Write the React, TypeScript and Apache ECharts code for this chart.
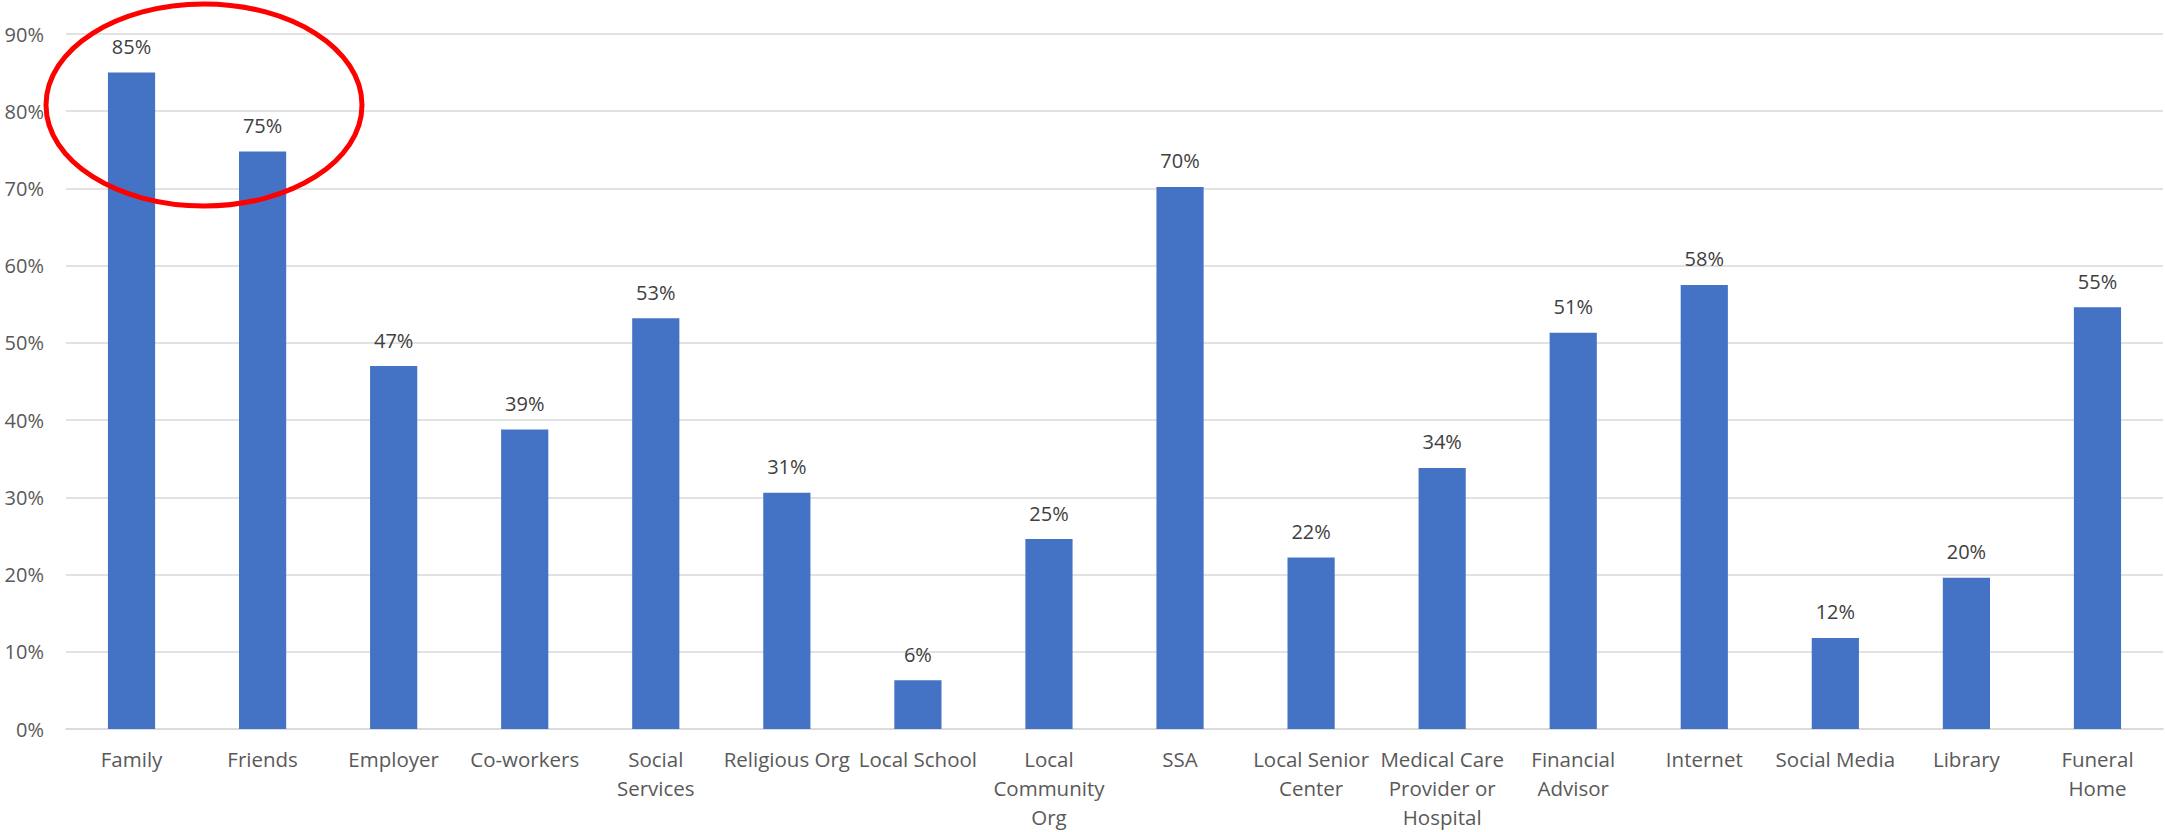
import React, { useEffect, useRef } from "react";
import * as echarts from "echarts";

const categories = [
  "Family",
  "Friends",
  "Employer",
  "Co-workers",
  "Social\nServices",
  "Religious Org",
  "Local School",
  "Local\nCommunity\nOrg",
  "SSA",
  "Local Senior\nCenter",
  "Medical Care\nProvider or\nHospital",
  "Financial\nAdvisor",
  "Internet",
  "Social Media",
  "Library",
  "Funeral\nHome",
];

const values = [85.0, 74.8, 47.0, 38.8, 53.2, 30.6, 6.3, 24.6, 70.2, 22.2, 33.8, 51.3, 57.5, 11.8, 19.6, 54.6];

const yTicks = { min: 0, max: 90, interval: 10 };

export default function App() {
  const ref = useRef<HTMLDivElement>(null);
  useEffect(() => {
    if (!ref.current) return;
    const chart = echarts.init(ref.current, null, { renderer: "svg" });
    const font = "'Open Sans', 'Noto Sans', sans-serif";
    chart.setOption({
      animation: false,
      backgroundColor: "#ffffff",
      grid: { left: 66, right: 2, top: 34, bottom: 103, containLabel: false },
      xAxis: {
        type: "category",
        data: categories,
        axisTick: { show: false },
        axisLine: { show: true, lineStyle: { color: "#D9D9D9", width: 1.5 } },
        axisLabel: {
          interval: 0,
          color: "#595959",
          fontFamily: font,
          fontSize: 20.5,
          lineHeight: 29,
          margin: 15,
        },
      },
      yAxis: {
        type: "value",
        min: yTicks.min,
        max: yTicks.max,
        interval: yTicks.interval,
        axisLine: { show: false },
        axisTick: { show: false },
        splitLine: { lineStyle: { color: "#D9D9D9", width: 1.5 } },
        axisLabel: {
          formatter: "{value}%",
          color: "#595959",
          fontFamily: font,
          fontSize: 20,
          margin: 22,
        },
      },
      series: [
        {
          type: "bar",
          data: values,
          barWidth: "36%",
          itemStyle: { color: "#4472C4" },
          label: {
            show: true,
            position: "top",
            distance: 16,
            color: "#404040",
            fontFamily: font,
            fontSize: 20,
            formatter: (p: any) => Math.round(p.value) + "%",
          },
        },
      ],
      graphic: [
        {
          type: "ellipse",
          shape: { cx: 204, cy: 105, rx: 158, ry: 101 },
          style: { fill: "none", stroke: "#FF0000", lineWidth: 5 },
          z: 100,
        },
      ],
    });
    return () => chart.dispose();
  }, []);
  return (
    <div
      ref={ref}
      style={{ position: "fixed", left: 0, top: 0, width: 2165, height: 832, background: "#fff" }}
    />
  );
}
